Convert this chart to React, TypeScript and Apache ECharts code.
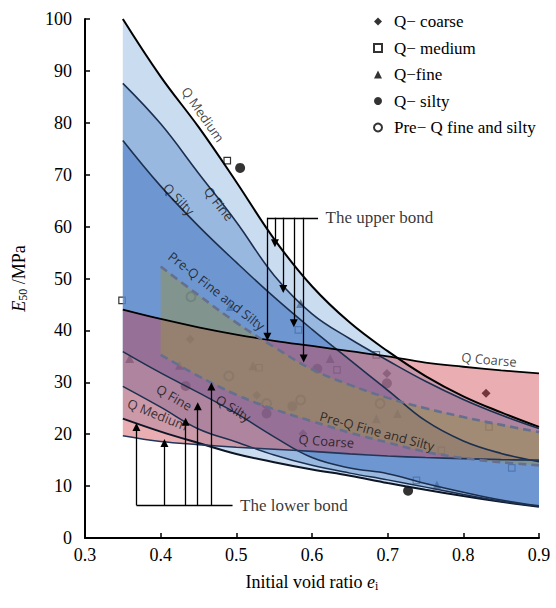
import React, { useEffect, useRef } from 'react';
import * as echarts from 'echarts';

// ---------- data ----------
// hidden category positions used to lay the bands on the same scale as the value x axis
const catX = ['0.30', '0.35', '0.40', '0.45', '0.50', '0.55', '0.60', '0.65', '0.70', '0.75', '0.80', '0.85', '0.90'];
const bandX = [0.35, 0.4, 0.45, 0.5, 0.55, 0.6, 0.65, 0.7, 0.75, 0.8, 0.85, 0.9];
const mediumUpper = [100, 88.9, 79.2, 68.6, 57.6, 48.5, 41.5, 36, 31.2, 27.3, 24.2, 21.4];
const mediumLower = [23.0, 20.5, 18.3, 16.2, 14.6, 13.2, 12, 10.6, 9.3, 8.1, 7, 6.0];
const fineUpper = [87.6, 79.8, 70.3, 60.9, 50.6, 43.2, 38.4, 34.2, 30.2, 26.7, 23.7, 21.1];
const fineLower = [29.2, 25.2, 21, 18.5, 16, 14, 12.5, 11.2, 9.8, 8.4, 7.1, 6.1];
const siltyUpper = [76.6, 67.8, 60.1, 53.1, 46.4, 40.2, 34.3, 28.5, 22.6, 18.7, 16.3, 14.7];
const siltyLower = [35.9, 31.8, 28, 24, 19.5, 15.5, 13.5, 12.4, 10.5, 8.8, 7.3, 6.2];
const coarseUpper = [44, 42.2, 40.6, 39.2, 38, 37, 36, 35, 33.8, 33, 32.3, 31.7];
const coarseLower = [19.7, 18.6, 18, 17.5, 17.1, 16.7, 16.2, 15.8, 15.5, 15.3, 15.1, 15.0];
const preQX = [0.4, 0.45, 0.5, 0.55, 0.6, 0.65, 0.7, 0.75, 0.8, 0.85, 0.9];
const preQUpper = [52.3, 46.8, 41.5, 36.8, 32.5, 29.5, 27, 25, 23.3, 21.8, 20.4];
const preQLower = [35.3, 31.2, 27.6, 24.8, 22.5, 20.3, 18.4, 16.6, 15.4, 14.6, 14.0];

const coarsePts = [[0.439, 38.3], [0.527, 27.5], [0.588, 20.1], [0.699, 31.7], [0.83, 27.9]];
const mediumPts = [[0.349, 45.8], [0.488, 72.7], [0.53, 32.8], [0.582, 40.1], [0.633, 32.4], [0.685, 35.3], [0.738, 11.1], [0.771, 16.9], [0.834, 21.4], [0.864, 13.5]];
const finePts = [[0.359, 34.6], [0.425, 33.3], [0.492, 44.6], [0.522, 33.2], [0.585, 45.2], [0.624, 34.6], [0.685, 23], [0.713, 24], [0.765, 10.2]];
const siltyPts = [[0.505, 71.3], [0.727, 9.1], [0.433, 29.3], [0.54, 24], [0.574, 25.4], [0.607, 32.6], [0.699, 29.8]];
const preQPts = [[0.44, 46.5], [0.49, 31.2], [0.54, 25.9], [0.585, 26.6], [0.69, 25.9]];

const legendNames = ['Q\u2212 coarse', 'Q\u2212 medium', 'Q\u2212fine', 'Q\u2212 silty', 'Pre\u2212 Q fine and silty'];

const curveLabelText = ['Q Medium', 'Q Fine', 'Q Silty', 'Pre-Q Fine and Silty', 'Q Coarse', 'Pre-Q Fine and Silty', 'Q Coarse', 'Q Silty', 'Q Fine', 'Q Medium'];
const curveLabelAt = [[0.456, 81.6], [0.477, 64.4], [0.424, 65.3], [0.474, 47.6], [0.834, 34.4], [0.686, 20.6], [0.619, 18.7], [0.496, 25.0], [0.418, 27.1], [0.396, 23.8]];
const curveLabelAngle = [-55, -52, -46, -38, -5, -15, -4, -32, -30, -22];

const upperBase = 61.7;
const upperArrowX = [0.541, 0.551, 0.562, 0.576, 0.589];
const upperArrowTip = [38.8, 56.8, 48, 41.4, 34.6];
const upperBarEnd = 0.608;
const lowerBase = 6.3;
const lowerArrowX = [0.368, 0.405, 0.433, 0.449, 0.467];
const lowerArrowTip = [21.4, 18.3, 22.4, 25.4, 29.2];
const lowerBarEnd = 0.495;

// ---------- helpers ----------
const SERIF = 'Liberation Serif';
const SANS = 'Open Sans';

function toCats(xs: number[], vals: number[]) {
  const out: any[] = catX.map(() => '-');
  xs.forEach((x, i) => {
    const k = catX.indexOf(x.toFixed(2));
    if (k >= 0) out[k] = vals[i];
  });
  return out;
}

function band(id: string, xs: number[], lower: number[], upper: number[], fill: string, lowerLine: any, upperLine: any) {
  const diff = upper.map((u, i) => +(u - lower[i]).toFixed(4));
  return [
    {
      type: 'line', name: id + '-lo', stack: id, silent: true, symbol: 'none', smooth: 0.4,
      xAxisIndex: 1, data: toCats(xs, lower),
      lineStyle: lowerLine,
    },
    {
      type: 'line', name: id + '-hi', stack: id, silent: true, symbol: 'none', smooth: 0.4,
      xAxisIndex: 1, data: toCats(xs, diff),
      lineStyle: upperLine,
      areaStyle: { color: fill, opacity: 1 },
    },
  ];
}

const hollow = { color: 'rgba(0,0,0,0)', borderColor: '#000', borderWidth: 1.2 };

function buildOption(): any {
  const dark = '#1c2f4f';
  const series: any[] = [
    { type: 'scatter', name: legendNames[0], data: coarsePts, symbol: 'diamond', symbolSize: 9, itemStyle: { color: '#000' } },
    { type: 'scatter', name: legendNames[1], data: mediumPts, symbol: 'rect', symbolSize: 6.5, itemStyle: hollow },
    { type: 'scatter', name: legendNames[2], data: finePts, symbol: 'triangle', symbolSize: 9, itemStyle: { color: '#000' } },
    { type: 'scatter', name: legendNames[3], data: siltyPts, symbol: 'circle', symbolSize: 10, itemStyle: { color: '#000' } },
    { type: 'scatter', name: legendNames[4], data: preQPts, symbol: 'circle', symbolSize: 9, itemStyle: { color: 'rgba(0,0,0,0)', borderColor: '#000', borderWidth: 2 } },
    ...band('medium', bandX, mediumLower, mediumUpper, 'rgba(150,185,225,0.5)',
      { color: '#0d1626', width: 2 }, { color: '#000', width: 2 }),
    ...band('fine', bandX, fineLower, fineUpper, 'rgba(90,140,205,0.45)',
      { color: dark, width: 1.5 }, { color: dark, width: 1.6 }),
    ...band('silty', bandX, siltyLower, siltyUpper, 'rgba(60,110,190,0.45)',
      { color: dark, width: 1.5 }, { color: dark, width: 1.6 }),
    ...band('coarse', bandX, coarseLower, coarseUpper, 'rgba(205,60,70,0.42)',
      { color: '#22365a', width: 1.6 }, { color: '#000', width: 1.8 }),
    ...band('preq', preQX, preQLower, preQUpper, 'rgba(150,145,75,0.5)',
      { color: '#66708e', width: 2.6, type: [8, 5] }, { color: '#66708e', width: 2.6, type: [8, 5] }),
    {
      type: 'lines', coordinateSystem: 'cartesian2d', silent: true, z: 6,
      symbol: ['none', 'triangle'], symbolSize: 8,
      lineStyle: { color: '#000', width: 1.3, opacity: 1, curveness: 0 },
      data: [
        ...upperArrowX.map((x, i) => ({ coords: [[x, upperBase], [x, upperArrowTip[i]]] })),
        ...lowerArrowX.map((x, i) => ({ coords: [[x, lowerBase], [x, lowerArrowTip[i]]] })),
      ],
    },
    {
      type: 'lines', coordinateSystem: 'cartesian2d', silent: true, z: 6,
      symbol: ['none', 'none'],
      lineStyle: { color: '#000', width: 1.3, opacity: 1, curveness: 0 },
      data: [
        { coords: [[upperArrowX[0], upperBase], [upperBarEnd, upperBase]] },
        { coords: [[lowerArrowX[0], lowerBase], [lowerBarEnd, lowerBase]] },
      ],
    },
    {
      type: 'scatter', silent: true, z: 7, symbolSize: 1, itemStyle: { color: 'rgba(0,0,0,0)' },
      label: { show: true, position: 'right', distance: 7, fontFamily: SERIF, fontSize: 17, color: '#000' },
      data: [
        { value: [upperBarEnd, upperBase], label: { formatter: 'The upper bond' } },
        { value: [lowerBarEnd, lowerBase], label: { formatter: 'The lower bond' } },
      ],
    },
    {
      type: 'scatter', silent: true, z: 7, symbolSize: 1, itemStyle: { color: 'rgba(0,0,0,0)' },
      label: { show: true, position: 'inside', fontFamily: SANS, fontSize: 13, color: '#111' },
      data: curveLabelText.map((t, i) => ({
        value: curveLabelAt[i],
        label: { formatter: t, rotate: curveLabelAngle[i] },
      })),
    },
  ];

  const richName = {
    n: { fontFamily: SERIF, fontSize: 18, color: '#000' },
    e: { fontFamily: SERIF, fontSize: 18, color: '#000', fontStyle: 'italic' },
    s: { fontFamily: SERIF, fontSize: 12, color: '#000', verticalAlign: 'top', padding: [9, 0, 0, 0] },
  };

  return {
    animation: false,
    backgroundColor: '#fff',
    grid: { left: 85, right: 17, top: 19, bottom: 70, containLabel: false },
    legend: {
      data: legendNames, orient: 'vertical', left: 368, top: 8,
      itemWidth: 8, itemHeight: 8, itemGap: 9.5, selectedMode: false,
      textStyle: { fontFamily: SERIF, fontSize: 17, color: '#000', padding: [0, 0, 0, 7] },
    },
    xAxis: [
      {
        type: 'value', min: 0.3, max: 0.9, interval: 0.1,
        splitLine: { show: false },
        axisLine: { lineStyle: { color: '#000', width: 2 } },
        axisTick: { inside: true, length: 5, lineStyle: { color: '#000', width: 1.5 } },
        axisLabel: { color: '#000', fontFamily: SERIF, fontSize: 18, margin: 8, formatter: (v: number) => v.toFixed(1) },
        name: '{n|Initial void ratio }{e|e}{s|i}',
        nameLocation: 'middle', nameGap: 33,
        nameTextStyle: { fontFamily: SERIF, fontSize: 18, color: '#000', rich: richName },
      },
      { type: 'category', data: catX, boundaryGap: false, show: false },
    ],
    yAxis: {
      type: 'value', min: 0, max: 100, interval: 10,
      splitLine: { show: false },
      axisLine: { lineStyle: { color: '#000', width: 2 } },
      axisTick: { inside: true, length: 5, lineStyle: { color: '#000', width: 1.5 } },
      axisLabel: { color: '#000', fontFamily: SERIF, fontSize: 18, margin: 13 },
      name: '{e|E}{s|50}{n| /MPa}',
      nameLocation: 'middle', nameRotate: 90, nameGap: 56,
      nameTextStyle: { fontFamily: SERIF, fontSize: 18, color: '#000', rich: richName },
    },
    series,
  };
}

export default function App() {
  const ref = useRef<HTMLDivElement>(null);
  useEffect(() => {
    const chart = echarts.init(ref.current!, undefined, { renderer: 'svg' });
    chart.setOption(buildOption());
    return () => chart.dispose();
  }, []);
  return (
    <div
      ref={ref}
      style={{ position: 'fixed', left: 0, top: 0, width: 556, height: 608, background: '#fff' }}
    />
  );
}
